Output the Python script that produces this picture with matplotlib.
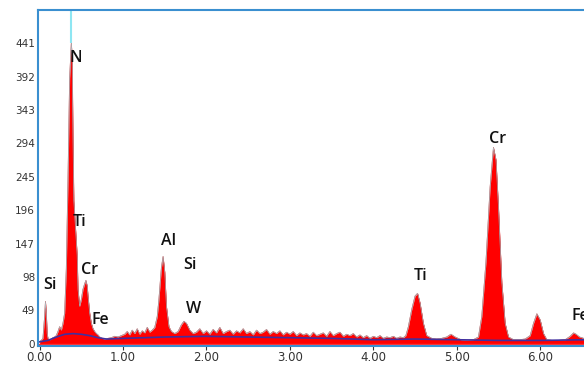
import numpy as np
import matplotlib.pyplot as plt

# EDS spectrum (keV, counts)
energy = [0.00, 0.02, 0.04, 0.06, 0.07, 0.08, 0.09, 0.10, 0.12, 0.14, 0.16, 0.18,
          0.20, 0.22, 0.24, 0.26, 0.28, 0.30, 0.32, 0.34, 0.36, 0.38, 0.39, 0.40,
          0.41, 0.43, 0.45, 0.46, 0.48, 0.50, 0.52, 0.54, 0.555, 0.57, 0.58, 0.60,
          0.62, 0.64, 0.66, 0.68, 0.70, 0.72, 0.75, 0.78, 0.82, 0.86, 0.90, 0.94,
          0.98, 1.02, 1.05, 1.08, 1.11, 1.14, 1.17, 1.20, 1.23, 1.26, 1.29, 1.32,
          1.35, 1.38, 1.41, 1.43, 1.46, 1.48, 1.50, 1.52, 1.55, 1.58, 1.62, 1.66,
          1.70, 1.73, 1.76, 1.80, 1.84,
          1.88, 1.92, 1.96, 2.00, 2.04, 2.08, 2.12, 2.16, 2.20, 2.24, 2.28, 2.32,
          2.36, 2.40, 2.44, 2.48, 2.52, 2.56, 2.60, 2.64, 2.68, 2.72, 2.76, 2.80,
          2.84, 2.88, 2.92, 2.96, 3.00, 3.04, 3.08, 3.12, 3.16, 3.20, 3.24, 3.28,
          3.32, 3.36, 3.40, 3.44, 3.48, 3.52, 3.56, 3.60, 3.64, 3.68, 3.72, 3.76,
          3.80, 3.84, 3.88, 3.92, 3.96, 4.00, 4.04, 4.08, 4.12, 4.16, 4.20, 4.24,
          4.28, 4.32, 4.36, 4.39, 4.42, 4.46, 4.50, 4.53, 4.56, 4.60, 4.64, 4.70,
          4.76, 4.82, 4.88, 4.93, 4.98, 5.05, 5.12, 5.20, 5.26, 5.30, 5.35, 5.40,
          5.44, 5.47, 5.50, 5.54, 5.58, 5.62, 5.68, 5.75, 5.82, 5.88, 5.92, 5.96,
          6.00, 6.04, 6.08, 6.14, 6.22, 6.30, 6.36, 6.40, 6.43, 6.47, 6.52, 6.56]
counts = [3, 5, 8, 40, 62, 45, 15, 8, 6, 7, 9, 10,
          12, 18, 25, 20, 30, 45, 110, 240, 390, 441, 420, 300,
          210, 170, 130, 80, 55, 65, 80, 88, 93, 85, 70, 45,
          30, 22, 18, 15, 13, 10, 8, 7, 8, 9, 11, 10,
          12, 14, 18, 13, 20, 15, 22, 14, 19, 16, 24, 17,
          20, 24, 40, 65, 112, 128, 105, 55, 25, 18, 15, 18,
          28, 33, 30, 20, 15,
          17, 22, 15, 19, 14, 21, 16, 24, 15, 18, 20, 14,
          19, 16, 22, 15, 18, 13, 20, 15, 17, 21, 14, 18,
          15, 19, 13, 17, 14, 18, 12, 16, 13, 15, 11, 17,
          12, 14, 16, 11, 18, 12, 15, 17, 11, 14, 12, 15,
          10, 13, 9, 12, 8, 11, 9, 12, 8, 10, 9, 11,
          8, 10, 9, 12, 25, 50, 70, 74, 60, 30, 12, 8,
          7, 8, 10, 14, 10, 6, 5, 6, 10, 40, 120, 230,
          288, 270, 200, 90, 30, 10, 6, 6, 7, 12, 30, 44,
          35, 15, 6, 5, 5, 6, 11, 16, 14, 10, 8, 7]

# background fit (dark blue line)
bg_energy = [0.0, 0.1, 0.2, 0.3, 0.4, 0.5, 0.6, 0.7, 0.8, 1.0, 1.5, 2.0, 2.5,
             3.0, 3.5, 4.0, 4.5, 5.0, 5.5, 6.0, 6.56]
bg_counts = [3, 5, 10, 14, 15, 14, 12, 9, 7, 8, 10, 11, 10,
             9, 8, 6, 7, 6, 5, 5, 6]

# peak labels
lab_text = ["Si", "N", "Ti", "Cr", "Fe", "Al", "Si", "W", "Ti", "Cr", "Fe"]
lab_x = [0.12, 0.43, 0.48, 0.60, 0.73, 1.55, 1.80, 1.84, 4.57, 5.49, 6.48]
lab_y = [86, 420, 179, 109, 35, 151, 116, 51, 100, 301, 41]

yticks = [0, 49, 98, 147, 196, 245, 294, 343, 392, 441]
xticks = [0, 1, 2, 3, 4, 5, 6]

fig = plt.figure(figsize=(5.84, 3.66), dpi=100)
ax = fig.add_axes([0.065, 0.055, 0.94, 0.918])

ax.fill_between(energy, counts, 0, color="#ff0000", lw=0)
ax.plot(energy, counts, color="#c00000", lw=0.6)
ax.plot(energy, counts, color="#a8e8f0", lw=0.5, alpha=0.8)
ax.plot(bg_energy, bg_counts, color="#4030a0", lw=1.2)
ax.vlines(0.38, 441, 490, color="#8ee6f2", lw=1.5)
ax.axhline(0, color="#ff3030", lw=1.0)

for t, x, y in zip(lab_text, lab_x, lab_y):
    ax.text(x, y, t, ha="center", va="center", fontsize=11.5, color="#111111",
            family="Open Sans", fontweight="semibold")

ax.set_xlim(-0.02, 6.56)
ax.set_ylim(-3, 490)
ax.set_yticks(yticks)
ax.set_yticklabels([str(v) for v in yticks])
ax.set_xticks(xticks)
ax.set_xticklabels(["%.2f" % v for v in xticks])
ax.tick_params(axis="y", length=0, labelsize=7.5, colors="#333333", pad=2)
ax.tick_params(axis="x", length=3, labelsize=8.5, colors="#333333", pad=1)

for s in ["left", "top", "bottom"]:
    ax.spines[s].set_color("#3a8fd0")
    ax.spines[s].set_linewidth(1.5)
ax.spines["right"].set_visible(False)

# panel title, mostly cut off at the top like the reference
fig.text(0.5, 1.018, "(b)", ha="center", va="center", fontsize=12)

fig.savefig("out.png", dpi=100)
